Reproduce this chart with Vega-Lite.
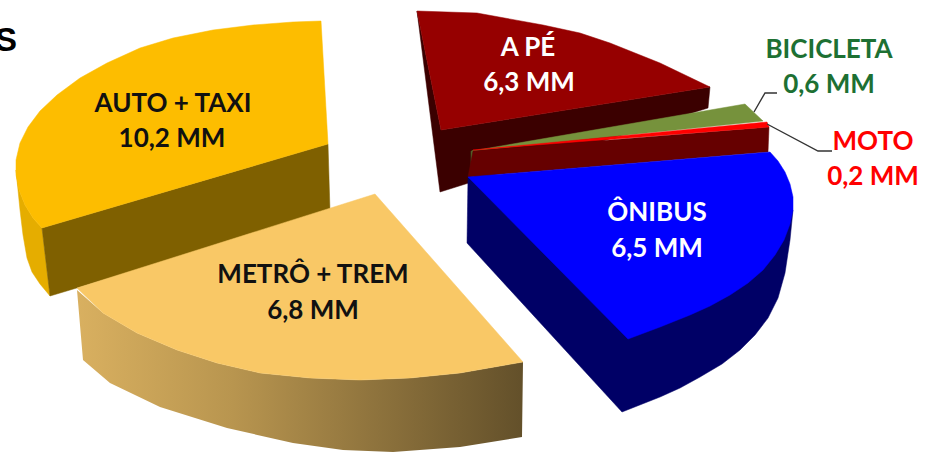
{
  "$schema": "https://vega.github.io/schema/vega-lite/v6.json",
  "width": 928,
  "height": 452,
  "autosize": {"type": "none"},
  "padding": 0,
  "background": "#ffffff",
  "config": {"view": {"stroke": null}},
  "datasets": {
    "faces": [
      {"face":"apeSide","seq":1,"x":41.7,"y":1.1},{"face":"apeSide","seq":2,"x":44.1,"y":13.0},{"face":"apeSide","seq":3,"x":71.0,"y":8.7},{"face":"apeSide","seq":4,"x":70.8,"y":10.8},{"face":"apeSide","seq":5,"x":44.0,"y":19.2},
      {"face":"apeTop","seq":1,"x":41.7,"y":1.1},{"face":"apeTop","seq":2,"x":47.7,"y":1.3},{"face":"apeTop","seq":3,"x":54.3,"y":2.5},{"face":"apeTop","seq":4,"x":58.0,"y":3.3},{"face":"apeTop","seq":5,"x":61.0,"y":4.3},{"face":"apeTop","seq":6,"x":66.0,"y":6.3},{"face":"apeTop","seq":7,"x":71.0,"y":8.7},{"face":"apeTop","seq":8,"x":44.1,"y":13.0},
      {"face":"bikeSide","seq":1,"x":47.1,"y":15.1},{"face":"bikeSide","seq":2,"x":47.4,"y":15.1},{"face":"bikeSide","seq":3,"x":47.4,"y":17.8},{"face":"bikeSide","seq":4,"x":47.1,"y":17.8},
      {"face":"bikeTop","seq":1,"x":47.2,"y":15.1},{"face":"bikeTop","seq":2,"x":74.5,"y":10.4},{"face":"bikeTop","seq":3,"x":76.3,"y":12.1},
      {"face":"motoSide","seq":1,"x":47.3,"y":15.1},{"face":"motoSide","seq":2,"x":76.9,"y":12.7},{"face":"motoSide","seq":3,"x":76.8,"y":15.2},{"face":"motoSide","seq":4,"x":46.8,"y":17.7},
      {"face":"motoTop","seq":1,"x":47.3,"y":15.0},{"face":"motoTop","seq":2,"x":76.7,"y":12.2},{"face":"motoTop","seq":3,"x":76.9,"y":12.7},
      {"face":"busSide","seq":1,"x":46.8,"y":17.7},{"face":"busSide","seq":2,"x":46.7,"y":24.3},{"face":"busSide","seq":3,"x":62.2,"y":41.2},{"face":"busSide","seq":4,"x":66.0,"y":39.7},{"face":"busSide","seq":5,"x":68.0,"y":38.8},{"face":"busSide","seq":6,"x":70.0,"y":37.7},{"face":"busSide","seq":7,"x":72.2,"y":36.4},{"face":"busSide","seq":8,"x":74.0,"y":35.0},{"face":"busSide","seq":9,"x":75.5,"y":33.5},{"face":"busSide","seq":10,"x":76.8,"y":31.8},{"face":"busSide","seq":11,"x":77.8,"y":29.8},{"face":"busSide","seq":12,"x":78.5,"y":27.3},{"face":"busSide","seq":13,"x":79.0,"y":24.0},{"face":"busSide","seq":14,"x":79.3,"y":21.0},
      {"face":"busTop","seq":1,"x":46.8,"y":17.7},{"face":"busTop","seq":2,"x":77.0,"y":15.2},{"face":"busTop","seq":3,"x":77.8,"y":16.1},{"face":"busTop","seq":4,"x":78.5,"y":17.2},{"face":"busTop","seq":5,"x":79.0,"y":18.4},{"face":"busTop","seq":6,"x":79.3,"y":19.7},{"face":"busTop","seq":7,"x":79.3,"y":21.0},{"face":"busTop","seq":8,"x":79.0,"y":22.4},{"face":"busTop","seq":9,"x":78.4,"y":24.0},{"face":"busTop","seq":10,"x":77.5,"y":25.5},{"face":"busTop","seq":11,"x":76.3,"y":27.0},{"face":"busTop","seq":12,"x":74.8,"y":28.3},{"face":"busTop","seq":13,"x":73.0,"y":29.5},{"face":"busTop","seq":14,"x":71.0,"y":30.6},{"face":"busTop","seq":15,"x":69.0,"y":31.5},{"face":"busTop","seq":16,"x":66.0,"y":32.7},{"face":"busTop","seq":17,"x":62.8,"y":33.9},
      {"face":"autoOuter","seq":1,"x":1.6,"y":17.0},{"face":"autoOuter","seq":2,"x":1.9,"y":19.0},{"face":"autoOuter","seq":3,"x":2.5,"y":20.5},{"face":"autoOuter","seq":4,"x":3.3,"y":21.8},{"face":"autoOuter","seq":5,"x":4.2,"y":22.8},{"face":"autoOuter","seq":6,"x":5.0,"y":29.6},{"face":"autoOuter","seq":7,"x":4.0,"y":28.4},{"face":"autoOuter","seq":8,"x":3.2,"y":27.2},{"face":"autoOuter","seq":9,"x":2.7,"y":25.8},{"face":"autoOuter","seq":10,"x":2.3,"y":23.5},{"face":"autoOuter","seq":11,"x":2.0,"y":21.0},
      {"face":"autoInner","seq":1,"x":4.2,"y":22.8},{"face":"autoInner","seq":2,"x":32.8,"y":14.4},{"face":"autoInner","seq":3,"x":33.0,"y":21.2},{"face":"autoInner","seq":4,"x":5.0,"y":29.6},
      {"face":"autoTop","seq":1,"x":4.2,"y":22.8},{"face":"autoTop","seq":2,"x":3.3,"y":21.8},{"face":"autoTop","seq":3,"x":2.5,"y":20.5},{"face":"autoTop","seq":4,"x":1.9,"y":19.0},{"face":"autoTop","seq":5,"x":1.6,"y":17.5},{"face":"autoTop","seq":6,"x":1.6,"y":16.0},{"face":"autoTop","seq":7,"x":2.0,"y":14.3},{"face":"autoTop","seq":8,"x":2.8,"y":12.7},{"face":"autoTop","seq":9,"x":4.0,"y":11.1},{"face":"autoTop","seq":10,"x":5.7,"y":9.5},{"face":"autoTop","seq":11,"x":8.0,"y":7.8},{"face":"autoTop","seq":12,"x":10.7,"y":6.3},{"face":"autoTop","seq":13,"x":14.0,"y":4.8},{"face":"autoTop","seq":14,"x":17.3,"y":3.8},{"face":"autoTop","seq":15,"x":21.3,"y":3.0},{"face":"autoTop","seq":16,"x":25.3,"y":2.5},{"face":"autoTop","seq":17,"x":29.3,"y":2.2},{"face":"autoTop","seq":18,"x":32.1,"y":2.1},{"face":"autoTop","seq":19,"x":32.8,"y":14.4}
    ],
    "metroSide": [
      {"seq":1,"x":7.7,"y":29.0},{"seq":2,"x":10.3,"y":31.3},{"seq":3,"x":13.7,"y":33.3},{"seq":4,"x":17.7,"y":35.0},{"seq":5,"x":21.7,"y":36.3},{"seq":6,"x":26.0,"y":37.3},{"seq":7,"x":31.0,"y":37.8},{"seq":8,"x":36.0,"y":38.0},{"seq":9,"x":41.0,"y":37.8},{"seq":10,"x":46.0,"y":37.3},{"seq":11,"x":52.3,"y":36.2},{"seq":12,"x":52.2,"y":43.7},{"seq":13,"x":46.0,"y":44.7},{"seq":14,"x":39.3,"y":45.2},{"seq":15,"x":34.3,"y":45.0},{"seq":16,"x":29.3,"y":44.3},{"seq":17,"x":22.7,"y":42.8},{"seq":18,"x":16.0,"y":40.7},{"seq":19,"x":11.0,"y":38.3},{"seq":20,"x":8.3,"y":36.0}
    ],
    "metroTop": [
      {"seq":1,"x":7.7,"y":28.8},{"seq":2,"x":37.5,"y":19.4},{"seq":3,"x":52.3,"y":36.2},{"seq":4,"x":46.0,"y":37.3},{"seq":5,"x":41.0,"y":37.8},{"seq":6,"x":36.0,"y":38.0},{"seq":7,"x":31.0,"y":37.8},{"seq":8,"x":26.0,"y":37.3},{"seq":9,"x":21.7,"y":36.3},{"seq":10,"x":17.7,"y":35.0},{"seq":11,"x":13.7,"y":33.3},{"seq":12,"x":10.3,"y":31.3}
    ],
    "leaders": [
      {"mode":"BICICLETA","seq":1,"x":75.4,"y":11.2},{"mode":"BICICLETA","seq":2,"x":76.5,"y":9.3},{"mode":"BICICLETA","seq":3,"x":77.7,"y":9.3},
      {"mode":"MOTO","seq":1,"x":76.7,"y":12.4},{"mode":"MOTO","seq":2,"x":81.8,"y":15.1},{"mode":"MOTO","seq":3,"x":83.2,"y":15.1}
    ],
    "labels": [
      {"mode":"AUTO + TAXI","value":10.2,"text":"AUTO + TAXI","x":17.3,"y":10.4},
      {"mode":"AUTO + TAXI","value":10.2,"text":"10,2 MM","x":17.2,"y":13.9},
      {"mode":"METRÔ + TREM","value":6.8,"text":"METRÔ + TREM","x":31.3,"y":27.5},
      {"mode":"METRÔ + TREM","value":6.8,"text":"6,8 MM","x":31.3,"y":31.1},
      {"mode":"A PÉ","value":6.3,"text":"A PÉ","x":52.8,"y":4.8},
      {"mode":"A PÉ","value":6.3,"text":"6,3 MM","x":52.9,"y":8.3},
      {"mode":"ÔNIBUS","value":6.5,"text":"ÔNIBUS","x":65.7,"y":21.3},
      {"mode":"ÔNIBUS","value":6.5,"text":"6,5 MM","x":65.7,"y":24.9},
      {"mode":"BICICLETA","value":0.6,"text":"BICICLETA","x":82.9,"y":5.0},
      {"mode":"BICICLETA","value":0.6,"text":"0,6 MM","x":82.9,"y":8.5},
      {"mode":"MOTO","value":0.2,"text":"MOTO","x":87.3,"y":14.2},
      {"mode":"MOTO","value":0.2,"text":"0,2 MM","x":87.3,"y":17.7}
    ],
    "heading": [{"text":"S","x":1.7,"y":5.05}]
  },
  "layer": [
    {
      "data": {"name": "faces"},
      "mark": {"type": "line", "strokeWidth": 0.5, "interpolate": "linear-closed"},
      "encoding": {
        "x": {"field": "x", "type": "quantitative", "scale": {"domain": [0, 92.8]}, "axis": null},
        "y": {"field": "y", "type": "quantitative", "scale": {"domain": [45.2, 0]}, "axis": null},
        "order": {"field": "seq", "type": "quantitative"},
        "detail": {"field": "face"},
        "fill": {"field": "face", "type": "nominal", "legend": null, "scale": {
          "domain": ["apeSide","apeTop","bikeSide","bikeTop","motoSide","motoTop","busSide","busTop","autoOuter","autoInner","autoTop"],
          "range": ["#3b0000","#960000","#4f6228","#76923c","#660000","#ff0000","#000066","#0000ff","#e5ad00","#7f6000","#fdbd00"]}},
        "stroke": {"field": "face", "type": "nominal", "legend": null, "scale": {
          "domain": ["apeSide","apeTop","bikeSide","bikeTop","motoSide","motoTop","busSide","busTop","autoOuter","autoInner","autoTop"],
          "range": ["#3b0000","#960000","#4f6228","#76923c","#660000","#ff0000","#000066","#0000ff","#e5ad00","#7f6000","#fdbd00"]}}
      }
    },
    {
      "data": {"name": "metroSide"},
      "mark": {"type": "line", "strokeWidth": 0, "interpolate": "linear-closed",
        "fill": {"gradient": "linear", "x1": 0, "y1": 0, "x2": 1, "y2": 0, "stops": [
          {"offset": 0, "color": "#d9b060"},
          {"offset": 0.35, "color": "#b8954f"},
          {"offset": 1, "color": "#63502a"}
        ]}},
      "encoding": {
        "x": {"field": "x", "type": "quantitative", "scale": {"domain": [0, 92.8]}, "axis": null},
        "y": {"field": "y", "type": "quantitative", "scale": {"domain": [45.2, 0]}, "axis": null},
        "order": {"field": "seq", "type": "quantitative"}
      }
    },
    {
      "data": {"name": "metroTop"},
      "mark": {"type": "line", "strokeWidth": 0.5, "stroke": "#f9c866", "fill": "#f9c866", "interpolate": "linear-closed"},
      "encoding": {
        "x": {"field": "x", "type": "quantitative", "scale": {"domain": [0, 92.8]}, "axis": null},
        "y": {"field": "y", "type": "quantitative", "scale": {"domain": [45.2, 0]}, "axis": null},
        "order": {"field": "seq", "type": "quantitative"}
      }
    },
    {
      "data": {"name": "leaders"},
      "mark": {"type": "line", "strokeWidth": 1.4, "stroke": "#333333"},
      "encoding": {
        "x": {"field": "x", "type": "quantitative", "scale": {"domain": [0, 92.8]}, "axis": null},
        "y": {"field": "y", "type": "quantitative", "scale": {"domain": [45.2, 0]}, "axis": null},
        "order": {"field": "seq", "type": "quantitative"},
        "detail": {"field": "mode"}
      }
    },
    {
      "data": {"name": "labels"},
      "mark": {"type": "text", "font": "Lato", "fontWeight": "bold", "fontSize": 26, "align": "center", "baseline": "middle"},
      "encoding": {
        "x": {"field": "x", "type": "quantitative", "scale": {"domain": [0, 92.8]}, "axis": null},
        "y": {"field": "y", "type": "quantitative", "scale": {"domain": [45.2, 0]}, "axis": null},
        "text": {"field": "text"},
        "color": {"field": "mode", "type": "nominal", "legend": null, "scale": {
          "domain": ["AUTO + TAXI","METRÔ + TREM","A PÉ","ÔNIBUS","BICICLETA","MOTO"],
          "range": ["#111111","#111111","#ffffff","#ffffff","#1d7033","#ff0000"]}}
      }
    },
    {
      "data": {"name": "heading"},
      "mark": {"type": "text", "font": "Liberation Sans", "fontWeight": "bold", "fontSize": 33, "align": "right", "baseline": "alphabetic", "color": "#000000"},
      "encoding": {
        "x": {"field": "x", "type": "quantitative", "scale": {"domain": [0, 92.8]}, "axis": null},
        "y": {"field": "y", "type": "quantitative", "scale": {"domain": [45.2, 0]}, "axis": null},
        "text": {"field": "text"}
      }
    }
  ],
  "resolve": {"scale": {"fill": "independent", "stroke": "independent", "color": "independent"}}
}
